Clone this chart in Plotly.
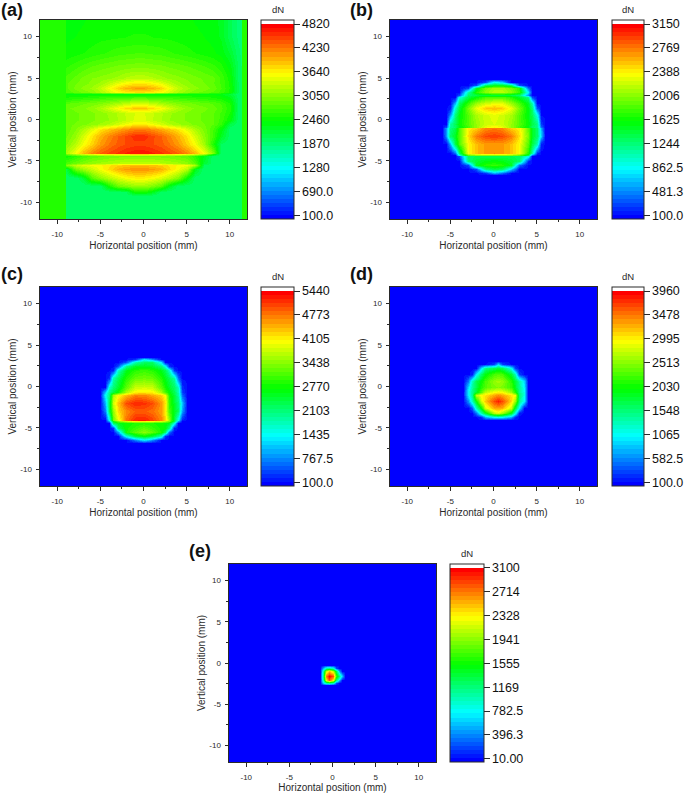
import plotly.graph_objects as go

W, H = 685, 793

# ---------- panel a ----------
x_a = [-9,-8,-7,-6,-5,-4,-3,-2,-1,0,1,2,3,4,5,6,7,8,9,10,11,11.35]
strip_a = 2560
y_a = [13,10,8,6.5,5,4.4,3.8,3.3,3.1,2.6,2,1.4,0.8,0,-0.6,-1.2,-2,-3,-4,-4.2,-4.45,-5.2,-5.5,-6,-7,-8,-8.8,-9.2,-13]
z_a = [
[2360,2380,2400,2420,2430,2440,2450,2460,2460,2460,2460,2450,2440,2430,2420,2400,2380,2350,2280,2050,1900,1880],
[2400,2420,2440,2470,2490,2500,2510,2520,2530,2530,2520,2510,2500,2480,2460,2440,2420,2380,2300,2050,1900,1880],
[2450,2480,2520,2560,2600,2640,2680,2700,2720,2720,2700,2680,2640,2600,2560,2520,2480,2440,2380,2200,1950,1900],
[2600,2680,2750,2820,2870,2900,2940,2960,2980,2980,2960,2940,2900,2870,2820,2780,2720,2650,2550,2350,2000,1920],
[2750,2850,2950,3020,3050,3100,3160,3250,3300,3300,3250,3160,3100,3050,3000,2950,2900,2850,2700,2450,2000,1930],
[2800,2900,2980,3050,3150,3300,3480,3600,3680,3680,3600,3480,3300,3150,3050,2980,2920,2830,2700,2480,2030,1930],
[2800,2950,3050,3150,3300,3550,3800,3950,4020,4020,3950,3800,3550,3300,3150,3050,2980,2880,2720,2500,2050,1930],
[2750,2850,2950,3050,3200,3400,3580,3660,3720,3720,3660,3580,3400,3200,3050,2950,2880,2800,2680,2480,2050,1930],
[2400,2400,2400,2400,2400,2400,2400,2400,2400,2400,2400,2400,2400,2400,2400,2400,2400,2400,2350,2200,1950,1930],
[2550,2580,2620,2660,2700,2730,2760,2800,2830,2830,2800,2760,2730,2700,2660,2620,2580,2550,2480,2350,1980,1930],
[2800,2850,2900,2950,3000,3080,3180,3280,3380,3380,3280,3180,3080,3000,2950,2900,2850,2800,2700,2500,2000,1930],
[2900,2950,3000,3080,3200,3400,3600,3750,3850,3850,3750,3600,3400,3200,3080,3000,2950,2880,2750,2550,2000,1930],
[2850,2900,2950,3000,3060,3140,3240,3340,3420,3420,3340,3240,3140,3060,3000,2950,2900,2830,2700,2500,1980,1930],
[2850,2900,2950,3000,3060,3120,3220,3320,3450,3450,3320,3220,3120,3060,3000,2950,2900,2820,2680,2400,1960,1930],
[2880,2930,2990,3060,3140,3250,3400,3540,3660,3660,3540,3400,3250,3140,3060,2990,2920,2820,2640,2100,1940,1930],
[2850,3000,3200,3450,3700,3850,3980,4100,4180,4180,4100,3980,3850,3700,3450,3200,2980,2720,2380,1950,1930,1930],
[2900,3100,3400,3700,3950,4150,4320,4450,4580,4580,4450,4320,4150,3950,3700,3400,3050,2700,2280,1950,1930,1930],
[3000,3250,3550,3800,4050,4230,4360,4430,4480,4480,4430,4360,4230,4050,3800,3550,3150,2550,2000,1930,1930,1930],
[3200,3550,3900,4150,4330,4450,4550,4640,4700,4700,4640,4550,4450,4330,4150,3900,3550,3000,1950,1930,1930,1930],
[2900,3200,3400,3500,3600,3650,3700,3700,3750,3750,3700,3700,3650,3600,3500,3400,3200,2500,1930,1930,1930,1930],
[2450,2600,2750,2850,2900,2950,2980,3000,3000,3000,3000,2980,2950,2900,2850,2600,2300,1950,1930,1930,1930,1930],
[2750,2900,3000,3100,3150,3200,3250,3300,3300,3300,3300,3250,3200,3150,3050,2800,2200,1930,1930,1930,1930,1930],
[3000,3300,3450,3550,3600,3700,3800,3850,3900,3900,3850,3800,3700,3600,3550,3200,2000,1930,1930,1930,1930,1930],
[2100,2900,3150,3350,3550,3750,3950,4050,4100,4100,4050,3950,3750,3550,3250,2300,1930,1930,1930,1930,1930,1930],
[1930,1930,2150,2800,3050,3250,3420,3550,3620,3620,3550,3420,3250,3000,2400,1950,1930,1930,1930,1930,1930,1930],
[1930,1930,1930,1930,1950,2500,2900,3000,3100,3100,3000,2800,2300,1950,1930,1930,1930,1930,1930,1930,1930,1930],
[1930,1930,1930,1930,1930,1930,1930,2000,2500,2500,2300,1950,1930,1930,1930,1930,1930,1930,1930,1930,1930,1930],
[1930,1930,1930,1930,1930,1930,1930,1930,1930,1930,1930,1930,1930,1930,1930,1930,1930,1930,1930,1930,1930,1930],
[1930,1930,1930,1930,1930,1930,1930,1930,1930,1930,1930,1930,1930,1930,1930,1930,1930,1930,1930,1930,1930,1930],
]

# ---------- panel b ----------
x_b = [-6,-5.5,-5,-4.5,-4,-3,-2,-1,0,1,2,3,4,4.5,5,5.5,6]
y_b = [4.85,4.5,4.2,3.8,3.3,3.0,2.7,2,1.4,0.5,-0.5,-0.85,-1.05,-2,-3,-4,-4.25,-4.45,-5,-5.5,-6,-6.4,-6.75]
z_b = [
[100,100,100,100,100,100,100,100,100,100,100,100,100,100,100,100,100],
[100,100,100,100,100,100,100,300,900,700,100,100,100,100,100,100,100],
[100,100,100,100,100,100,300,1300,1500,1500,1300,300,100,100,100,100,100],
[100,100,100,100,100,300,1500,1950,2100,2100,1950,1700,400,100,100,100,100],
[100,100,100,100,100,1100,1700,2000,2150,2150,2000,1750,800,100,100,100,100],
[100,100,100,100,300,1300,1400,1450,1450,1450,1400,1300,500,100,100,100,100],
[100,100,100,100,900,1400,1600,1800,1850,1850,1700,1500,1200,300,100,100,100],
[100,100,100,600,1300,1750,2050,2200,2280,2280,2050,1800,1500,1050,100,100,100],
[100,100,150,1000,1450,1950,2300,2500,2560,2500,2300,1950,1550,1250,300,100,100],
[100,100,500,1250,1550,1850,2100,2220,2280,2220,2100,1850,1550,1350,900,100,100],
[100,100,1100,1350,1600,1850,2050,2200,2250,2200,2050,1850,1600,1400,1200,250,100],
[100,300,1150,1300,1550,1800,2050,2300,2380,2300,2050,1800,1550,1300,1200,400,100],
[100,550,1200,1400,1800,2400,2500,2700,2750,2700,2500,2400,1900,1500,1300,600,100],
[100,500,1300,1500,1850,2450,2750,2900,2950,2900,2750,2450,1950,1500,1300,700,100],
[100,100,600,1400,1800,2350,2550,2650,2650,2650,2550,2350,1850,1400,1050,150,100],
[100,100,100,400,1300,2350,2550,2650,2700,2650,2550,2350,1700,1100,200,100,100],
[100,100,100,100,900,1900,2000,2050,2050,2050,2000,1900,1400,400,100,100,100],
[100,100,100,100,300,1300,1350,1350,1350,1350,1350,1300,900,100,100,100,100],
[100,100,100,100,100,1250,1450,1550,1600,1550,1450,1300,200,100,100,100,100],
[100,100,100,100,100,300,1500,1700,1750,1700,1500,400,100,100,100,100,100],
[100,100,100,100,100,100,300,1200,1400,1300,700,100,100,100,100,100,100],
[100,100,100,100,100,100,100,200,600,400,100,100,100,100,100,100,100],
[100,100,100,100,100,100,100,100,100,100,100,100,100,100,100,100,100],
]

# ---------- panel c ----------
x_c = [-5.5,-5,-4.5,-4,-3.5,-3,-2,-1,0,1,2,2.5,3,3.5,4,4.5,5]
y_c = [3.6,3.3,2.9,2.5,2,1,0,-0.7,-1,-2,-3,-4,-4.2,-4.45,-5,-5.5,-6,-6.4,-6.8]
z_c = [
[100,100,100,100,100,100,100,100,100,100,100,100,100,100,100,100,100],
[100,100,100,100,100,100,100,300,1300,800,100,100,100,100,100,100,100],
[100,100,100,100,100,100,500,1800,2200,2200,1300,100,100,100,100,100,100],
[100,100,100,100,100,500,2000,2500,2600,2500,2100,1500,300,100,100,100,100],
[100,100,100,100,200,1700,2600,2900,3000,2900,2600,2300,1700,300,100,100,100],
[100,100,100,300,1800,2300,2900,3250,3300,3250,2900,2600,2300,1900,600,100,100],
[100,100,100,1600,2100,2500,3200,3750,3800,3750,3200,2800,2500,2200,1700,300,100],
[100,100,1100,2000,2400,2800,3600,4100,4150,4100,3600,3100,2700,2300,1800,400,100],
[100,100,1400,2100,3600,4050,4400,4700,4700,4500,4300,4000,2900,2400,1900,600,100],
[100,100,1000,2300,3800,4350,5000,5200,5150,5000,4600,4200,3000,2500,2100,1100,100],
[100,100,700,2300,3500,4250,4650,4900,4900,4800,4550,4100,3100,2600,2200,900,100],
[100,100,100,1400,3300,3950,4800,5200,5250,5050,4700,4300,3500,2400,1400,200,100],
[100,100,100,1000,2700,3400,3800,4100,4100,4000,3900,3700,3300,2300,900,100,100],
[100,100,100,100,2200,2600,2750,2850,2900,2850,2750,2700,2600,1500,100,100,100],
[100,100,100,100,300,2200,2800,3000,3200,3000,2800,2700,2000,200,100,100,100],
[100,100,100,100,100,900,2800,3200,3450,3200,2800,2200,600,100,100,100,100],
[100,100,100,100,100,100,1500,2400,2700,2400,1700,300,100,100,100,100,100],
[100,100,100,100,100,100,100,700,1300,800,100,100,100,100,100,100,100],
[100,100,100,100,100,100,100,100,100,100,100,100,100,100,100,100,100],
]

# ---------- panel d ----------
x_d = [-3.5,-3,-2.5,-2,-1.5,-1,0,0.5,1,2,2.5,3,3.5,4]
y_d = [3.1,2.7,2.2,1.5,0.7,0,-0.7,-1.05,-1.8,-2.6,-3.2,-3.7,-4]
z_d = [
[100,100,100,100,100,100,100,100,100,100,100,100,100,100],
[100,100,100,100,100,100,300,900,300,100,100,100,100,100],
[100,100,100,100,900,1500,1700,1800,1700,1100,300,100,100,100],
[100,100,150,1000,1600,1950,2250,2300,2250,1800,1300,300,100,100],
[100,500,1300,1700,2000,2250,2550,2600,2550,2150,1800,1400,900,100],
[100,900,1400,1750,2100,2300,2450,2500,2450,2200,1850,1450,1000,100],
[100,1000,1500,1850,2300,2700,2950,3000,2950,2600,2100,1500,1100,100],
[100,1000,1500,2700,2950,3050,3300,3400,3300,3050,2900,1550,1100,100],
[100,600,1300,2000,2800,3150,3650,3800,3650,3100,2600,1500,1000,100],
[100,100,400,1300,2000,2800,3250,3300,3250,2750,1800,1000,100,100],
[100,100,100,500,1300,1800,2700,2800,2600,1900,1100,150,100,100],
[100,100,100,100,200,700,1050,1100,1050,700,200,100,100,100],
[100,100,100,100,100,100,100,100,100,100,100,100,100,100],
]

# ---------- panel e ----------
x_e = [-1.5,-1.1,-0.75,-0.35,0,0.35,0.7,1.1,1.4]
y_e = [-0.2,-0.55,-1,-1.6,-2,-2.4,-2.7]
z_e = [
[10,10,10,10,10,10,10,10,10],
[10,500,1000,1100,900,200,10,10,10],
[10,1000,2100,2500,2100,1300,500,10,10],
[10,1100,2700,3050,2800,1700,1200,600,10],
[10,1000,2300,2800,2300,1200,600,10,10],
[10,600,1000,1100,900,200,10,10,10],
[10,10,10,10,10,10,10,10,10],
]

# ---------- axis and colour-bar ticks ----------
axis_vals = [-10,-5,0,5,10]
axis_text = ["-10","-5","0","5","10"]
vals_a = [100,690,1280,1870,2460,3050,3640,4230,4820]
text_a = ["100.0","690.0","1280","1870","2460","3050","3640","4230","4820"]
vals_b = [100,481.3,862.5,1244,1625,2006,2388,2769,3150]
text_b = ["100.0","481.3","862.5","1244","1625","2006","2388","2769","3150"]
vals_c = [100,767.5,1435,2103,2770,3438,4105,4773,5440]
text_c = ["100.0","767.5","1435","2103","2770","3438","4105","4773","5440"]
vals_d = [100,582.5,1065,1548,2030,2513,2995,3478,3960]
text_d = ["100.0","582.5","1065","1548","2030","2513","2995","3478","3960"]
vals_e = [10,396.3,782.5,1169,1555,1941,2328,2714,3100]
text_e = ["10.00","396.3","782.5","1169","1555","1941","2328","2714","3100"]

AX = "#2a2a2a"
FONT = "Liberation Sans"
RAMP = [(0,0,255),(0,255,255),(0,255,0),(255,255,0),(255,0,0)]
N_BANDS = 48


def ramp(t):
    s = t * (len(RAMP) - 1)
    i = min(int(s), len(RAMP) - 2)
    f = s - i
    c = [round(RAMP[i][k] + (RAMP[i + 1][k] - RAMP[i][k]) * f) for k in range(3)]
    return f"rgb({c[0]},{c[1]},{c[2]})"


def limits(vals):
    per_px = (vals[-1] - vals[0]) / 191.7
    return vals[0] - 3.3 * per_px, vals[-1] + 4.0 * per_px


def scale(vals):
    lo, hi = limits(vals)
    top = (vals[-1] - lo) / (hi - lo)
    out = []
    for i in range(N_BANDS):
        a = top * i / N_BANDS
        b = top * (i + 1) / N_BANDS
        col = ramp(i / (N_BANDS - 1))
        out += [[a, col], [b, col]]
    out += [[top, "white"], [1, "white"]]
    return out


def pad(x, y, z, bg):
    xx = [-13] + x + [13]
    yy = [13] + y + [-13]
    zz = [[bg] * len(xx)] + [[bg] + r + [bg] for r in z] + [[bg] * len(xx)]
    return xx, yy, zz


def strip(x, y, z, s):
    xx = [-13, -9.05] + x + [11.4, 13]
    zz = [[s, s] + r + [s, s] for r in z]
    return xx, y, zz


panels = [
    ("(a)", strip(x_a, y_a, z_a, strip_a), vals_a, text_a, (40, 247, 20, 219), (261, 294), (-1, 10)),
    ("(b)", pad(x_b, y_b, z_b, 100), vals_b, text_b, (390, 597, 20, 219), (612, 644), (348, 10)),
    ("(c)", pad(x_c, y_c, z_c, 100), vals_c, text_c, (40, 247, 287, 486), (261, 294), (-1, 274)),
    ("(d)", pad(x_d, y_d, z_d, 100), vals_d, text_d, (390, 597, 287, 486), (612, 644), (348, 274)),
    ("(e)", pad(x_e, y_e, z_e, 10), vals_e, text_e, (229, 436, 564, 762), (450, 484), (187, 551)),
]

fig = go.Figure()
layout = dict(
    width=W, height=H, margin=dict(l=0, r=0, t=0, b=0),
    paper_bgcolor="white", plot_bgcolor="white",
    font=dict(family=FONT, color=AX), showlegend=False, annotations=[],
)

for n, (label, (xs, ys, zs), vals, text, (l, r, t, b), (cl, cr), (lx, ly)) in enumerate(panels):
    sfx = "" if n == 0 else str(n + 1)
    lo, hi = limits(vals)
    fig.add_trace(go.Heatmap(
        x=xs, y=ys[::-1], z=zs[::-1], zsmooth="best", zmin=lo, zmax=hi,
        colorscale=scale(vals), xaxis="x" + sfx, yaxis="y" + sfx,
        colorbar=dict(
            x=cl / W, xanchor="left", y=1 - t / H, yanchor="top",
            len=(b - t) / H, lenmode="fraction", thickness=cr - cl, thicknessmode="pixels",
            xpad=0, ypad=0, outlinecolor=AX, outlinewidth=1,
            tickmode="array", tickvals=vals, ticktext=text, ticks="outside", ticklen=5.5,
            tickcolor=AX, tickwidth=1, tickfont=dict(family=FONT, size=12.5, color="#111"),
        ),
    ))
    common = dict(
        range=[-12, 12], tickmode="array", tickvals=axis_vals, ticktext=axis_text, ticks="outside", ticklen=3.5,
        tickwidth=1, tickcolor=AX, showline=True, linecolor=AX, linewidth=1, mirror=True,
        showgrid=False, zeroline=False, tickfont=dict(family=FONT, size=8, color=AX),
        minor=dict(ticks="outside", tick0=0, dtick=2.5, ticklen=2, tickwidth=1, tickcolor=AX, showgrid=False),
    )
    layout["xaxis" + sfx] = dict(
        common, domain=[l / W, r / W], anchor="y" + sfx, ticklabelstandoff=4,
        title=dict(text="Horizontal position (mm)", font=dict(family=FONT, size=10, color=AX), standoff=3),
    )
    layout["yaxis" + sfx] = dict(
        common, domain=[1 - b / H, 1 - t / H], anchor="x" + sfx, ticklabelstandoff=2,
        title=dict(text="Vertical position (mm)", font=dict(family=FONT, size=10, color=AX), standoff=1),
    )
    layout["annotations"].append(dict(
        text=f"<b>{label}</b>", x=lx / W, y=1 - ly / H, xref="paper", yref="paper",
        xanchor="left", yanchor="middle", showarrow=False,
        font=dict(family=FONT, size=18, color="#111"),
    ))
    layout["annotations"].append(dict(
        text="dN", x=(cl + cr) / 2 / W, y=1 - (t - 10.5) / H, xref="paper", yref="paper",
        xanchor="center", yanchor="middle", showarrow=False,
        font=dict(family=FONT, size=9.5, color=AX),
    ))

fig.update_layout(**layout)
fig.write_html("out.html", config={"displayModeBar": False},
               post_script="document.body.style.margin='0';document.body.style.overflow='hidden';")
